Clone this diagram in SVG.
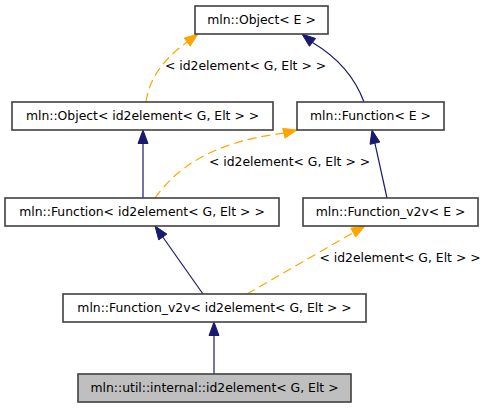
<svg xmlns="http://www.w3.org/2000/svg" width="489" height="408" viewBox="0 0 489 408">
<style>
.n rect{fill:#ffffff;stroke:#404040;stroke-width:1.6}
.n.cur rect{fill:#bfbfbf}
text{font-family:"DejaVu Sans","Bitstream Vera Sans",sans-serif;font-size:12.4px;fill:#000000}
.nt{text-anchor:middle}
.lb{text-anchor:middle}
.inh{fill:none;stroke:#191970;stroke-width:1.2}
.inhh{fill:#191970;stroke:#191970;stroke-width:1}
.tpl{fill:none;stroke:#ffa500;stroke-width:1.2;stroke-dasharray:9,5}
.tplh{fill:#ffa500;stroke:#ffa500;stroke-width:1}
</style>
<rect width="489" height="408" fill="#ffffff"/>
<g id="edges">
<path class="tpl" d="M146,102 C149,80 162,60 187.2,42.1"/>
<polygon class="tplh" points="198,34 190.2,46.1 184.2,38.1"/>
<text class="lb" x="245.5" y="70">&lt; id2element&lt; G, Elt &gt; &gt;</text>
<path class="inh" d="M364,102 C356,80 342,60 312.5,42.4"/>
<polygon class="inhh" points="302,34 315.6,38.5 309.4,46.3"/>
<line class="inh" x1="143" y1="198" x2="143" y2="143.5"/>
<polygon class="inhh" points="143,130 138,143.5 148,143.5"/>
<path class="tpl" d="M155,198 C175,170 210,142 283.9,133.2"/>
<polygon class="tplh" points="297,130 285.1,138.1 282.7,128.4"/>
<text class="lb" x="289.5" y="166">&lt; id2element&lt; G, Elt &gt; &gt;</text>
<line class="inh" x1="387" y1="198" x2="374.9" y2="143.2"/>
<polygon class="inhh" points="372,130 379.8,142.1 370,144.3"/>
<line class="inh" x1="203" y1="294" x2="162.8" y2="237"/>
<polygon class="inhh" points="155,226 166.9,234.1 158.7,239.9"/>
<line class="tpl" x1="247" y1="294" x2="353.2" y2="232.6"/>
<polygon class="tplh" points="365,226 355.7,237 350.8,228.2"/>
<text class="lb" x="400" y="262">&lt; id2element&lt; G, Elt &gt; &gt;</text>
<line class="inh" x1="214" y1="374" x2="214" y2="335.5"/>
<polygon class="inhh" points="214,322 209,335.5 219,335.5"/>
</g>
<g id="node_object_e" class="n">
<rect x="195" y="6" width="133" height="28"/>
<text class="nt" x="261.5" y="24">mln::Object&lt; E &gt;</text>
</g>
<g id="node_object_id2" class="n">
<rect x="12" y="102" width="261" height="28"/>
<text class="nt" x="142.5" y="120">mln::Object&lt; id2element&lt; G, Elt &gt; &gt;</text>
</g>
<g id="node_function_e" class="n">
<rect x="297" y="102" width="147" height="28"/>
<text class="nt" x="370.5" y="120">mln::Function&lt; E &gt;</text>
</g>
<g id="node_function_id2" class="n">
<rect x="5" y="198" width="274" height="28"/>
<text class="nt" x="142" y="216">mln::Function&lt; id2element&lt; G, Elt &gt; &gt;</text>
</g>
<g id="node_function_v2v_e" class="n">
<rect x="303" y="198" width="175" height="28"/>
<text class="nt" x="390.5" y="216">mln::Function_v2v&lt; E &gt;</text>
</g>
<g id="node_function_v2v_id2" class="n">
<rect x="63" y="294" width="303" height="28"/>
<text class="nt" x="214.5" y="312">mln::Function_v2v&lt; id2element&lt; G, Elt &gt; &gt;</text>
</g>
<g id="node_id2element" class="n cur">
<rect x="78" y="374" width="273" height="28"/>
<text class="nt" x="214.5" y="392">mln::util::internal::id2element&lt; G, Elt &gt;</text>
</g>
</svg>
